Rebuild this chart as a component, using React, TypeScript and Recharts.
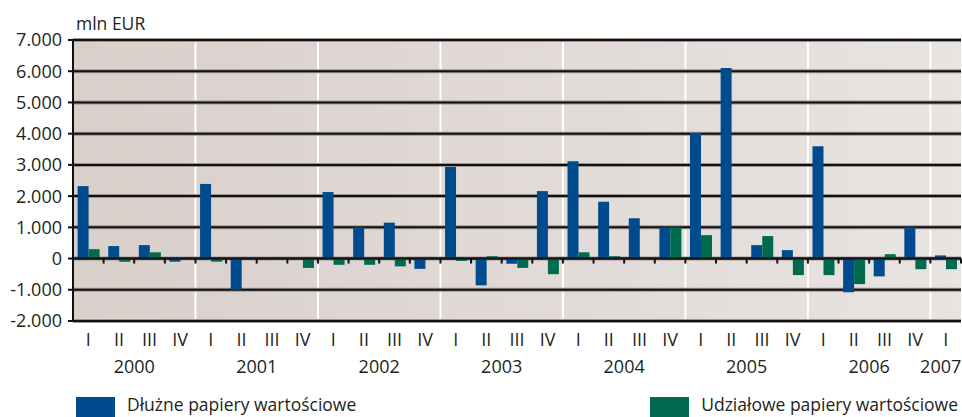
import { BarChart, Bar, XAxis, YAxis, CartesianGrid, ReferenceLine } from 'recharts'

// quarters 2000 I .. 2007 I
const quarters = [
  'I','II','III','IV', 'I','II','III','IV', 'I','II','III','IV', 'I','II','III','IV',
  'I','II','III','IV', 'I','II','III','IV', 'I','II','III','IV', 'I',
]
const years = [
  '2000','2000','2000','2000', '2001','2001','2001','2001', '2002','2002','2002','2002',
  '2003','2003','2003','2003', '2004','2004','2004','2004', '2005','2005','2005','2005',
  '2006','2006','2006','2006', '2007',
]
// mln EUR
const debt = [
  2320, 400, 430, -100, 2390, -1000, 0, 0, 2130, 1000, 1150, -330,
  2930, -860, -170, 2160, 3120, 1820, 1290, 1000, 4020, 6100, 430, 270,
  3600, -1080, -570, 1000, 100,
]
const equity = [
  300, -100, 200, 40, -100, 0, 40, -300, -200, -200, -250, 40,
  -75, 75, -300, -500, 200, 75, 0, 1000, 750, 40, 720, -530,
  -530, -820, 140, -340, -340,
]
const yTicks = [-2000, -1000, 0, 1000, 2000, 3000, 4000, 5000, 6000, 7000]
const seriesNames = ['Dłużne papiery wartościowe', 'Udziałowe papiery wartościowe']

const BLUE = '#004b8d'
const GREEN = '#006a4f'
const INK = '#231f20'
const FONT = '"Open Sans", "Noto Sans", sans-serif'

const data = quarters.map((q, i) => ({ key: years[i] + ' ' + q, debt: debt[i], equity: equity[i] }))

const fmt = (v: number) => {
  const s = String(Math.abs(v)).replace(/\B(?=(\d{3})+(?!\d))/g, '.')
  return v < 0 ? '-' + s : s
}

function QuarterTick(props: any) {
  const { x, y, index, width } = props
  const step = (width || 889) / data.length
  const q = quarters[index]
  let yr = null
  if (q === 'II') {
    yr = <text x={x + step / 2} y={y + 44} textAnchor="middle" fill={INK} fontSize={18} fontFamily={FONT}>{years[index]}</text>
  } else if (index === data.length - 1) {
    yr = <text x={x - 5} y={y + 44} textAnchor="middle" fill={INK} fontSize={18} fontFamily={FONT}>{years[index]}</text>
  }
  return (
    <g>
      <text x={x} y={y + 17} textAnchor="middle" fill={INK} fontSize={18} fontFamily={FONT}>{q}</text>
      {yr}
    </g>
  )
}

function ZeroLine(props: any) {
  const { x1, y1, x2 } = props
  if (x1 == null || y1 == null) return null
  const step = (x2 - x1) / data.length
  return (
    <g>
      <line x1={x1} y1={y1} x2={x2} y2={y1} stroke="#111" strokeWidth={2} />
      {data.map((_, i) => (
        <line key={i} x1={x1 + (i + 1) * step} y1={y1} x2={x1 + (i + 1) * step} y2={y1 + 5} stroke="#111" strokeWidth={2} />
      ))}
    </g>
  )
}

const yearStarts = quarters.map((q, i) => (q === 'I' && i > 0 ? i : -1)).filter(i => i > 0)

export default function App() {
  return (
    <div style={{ position: 'absolute', left: 0, top: 0, width: 962, height: 417, background: '#fff', fontFamily: FONT, overflow: 'hidden' }}>
      <div style={{ position: 'absolute', left: 76, top: 11, fontSize: 17.5, color: INK }}>mln EUR</div>
      <BarChart width={962} height={417} data={data} margin={{ top: 40, right: 1, bottom: 0, left: 0 }}
        barCategoryGap="15%" barGap={0}>
        <defs>
          <linearGradient id="bg" x1="0" y1="0" x2="1" y2="0">
            <stop offset="0%" stopColor="#d9cfcb" />
            <stop offset="100%" stopColor="#e8e4e2" />
          </linearGradient>
        </defs>
        <CartesianGrid horizontal={false} vertical fill="url(#bg)" fillOpacity={1} stroke="#ffffff" strokeWidth={2}
          verticalCoordinatesGenerator={({ offset }: any) => yearStarts.map(i => offset.left + i * offset.width / data.length)} />
        <CartesianGrid horizontal vertical={false} stroke="#9c9694" strokeWidth={4} />
        <CartesianGrid horizontal vertical={false} stroke="#111" strokeWidth={2} />
        <XAxis dataKey="key" height={96} interval={0} axisLine={false} tickLine={false} tick={<QuarterTick />} />
        <YAxis domain={[-2000, 7000]} ticks={yTicks} width={73} tickFormatter={fmt}
          axisLine={{ stroke: '#111', strokeWidth: 2 }} tickLine={{ stroke: '#111', strokeWidth: 2 }} tickSize={5} tickMargin={6}
          tick={{ fill: INK, fontSize: 18, fontFamily: FONT }} allowDataOverflow />
        <Bar dataKey="debt" name={seriesNames[0]} fill={BLUE} isAnimationActive={false} />
        <Bar dataKey="equity" name={seriesNames[1]} fill={GREEN} isAnimationActive={false} />
        <ReferenceLine y={0} shape={<ZeroLine />} />
      </BarChart>
      <div style={{ position: 'absolute', left: 76, top: 397, width: 886, height: 20, display: 'flex', justifyContent: 'space-between', fontSize: 17.5, lineHeight: '20px', color: INK }}>
        <div style={{ display: 'flex', alignItems: 'flex-start' }}>
          <span style={{ display: 'inline-block', width: 39, height: 20, background: BLUE, marginRight: 12 }} />
          <span style={{ position: 'relative', top: -3 }}>{seriesNames[0]}</span>
        </div>
        <div style={{ display: 'flex', alignItems: 'flex-start', marginRight: 4 }}>
          <span style={{ display: 'inline-block', width: 39, height: 20, background: GREEN, marginRight: 12 }} />
          <span style={{ position: 'relative', top: -3 }}>{seriesNames[1]}</span>
        </div>
      </div>
    </div>
  )
}
